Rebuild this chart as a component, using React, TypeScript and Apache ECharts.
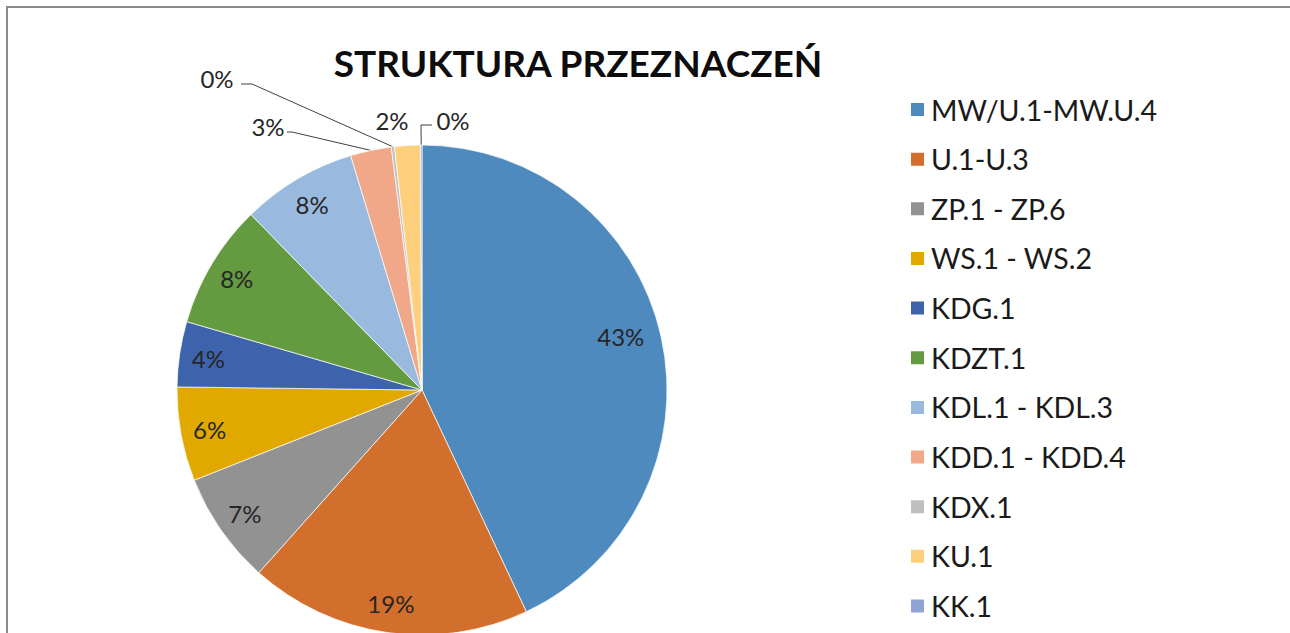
import React, { useEffect, useRef } from "react";
import * as echarts from "echarts";

const categories = [
  "MW/U.1-MW.U.4",
  "U.1-U.3",
  "ZP.1 - ZP.6",
  "WS.1 - WS.2",
  "KDG.1",
  "KDZT.1",
  "KDL.1 - KDL.3",
  "KDD.1 - KDD.4",
  "KDX.1",
  "KU.1",
  "KK.1",
];
const values = [43.0, 18.6, 7.4, 6.2, 4.3, 8.2, 7.6, 2.7, 0.2, 1.7, 0.1];
const colors = [
  "#4E8ABE",
  "#D36F2C",
  "#929292",
  "#E1A900",
  "#3D63AC",
  "#649A40",
  "#99B9DF",
  "#F0A889",
  "#BFBFBF",
  "#FED07E",
  "#8FA4D5",
];
const insideLabel = [true, true, true, true, true, true, true, false, false, false, false];
const titleText = "STRUKTURA PRZEZNACZEŃ";

// layout constants
const CX = 422;
const CY = 390;
const R = 245;
const FONT = "Lato, 'Open Sans', sans-serif";

// outside label placements (label centre + leader line elbow/end)
const outsidePlacement: Record<number, { x: number; y: number; line?: number[][] }> = {
  7: { x: 268, y: 126, line: [[292, 132], [287, 132]] },
  8: { x: 217, y: 78, line: [[252, 84], [241, 84]] },
  9: { x: 392, y: 120 },
  10: { x: 453, y: 120, line: [[421, 125], [432, 125]] },
};

const total = values.reduce((a, b) => a + b, 0);
function midAngle(i: number) {
  let c = 0;
  for (let j = 0; j < i; j++) c += values[j];
  c += values[i] / 2;
  return (c / total) * Math.PI * 2;
}

export default function App() {
  const ref = useRef<HTMLDivElement>(null);
  useEffect(() => {
    if (!ref.current) return;
    const chart = echarts.init(ref.current, null, { renderer: "svg" });
    const pct = (p: any) => `${Math.round(p.percent)}%`;
    const mainData = categories.map((name, i) => ({
      name,
      value: values[i],
      itemStyle: { color: colors[i] },
      label: { show: !insideLabel[i] },
      labelLine: { show: !insideLabel[i] && !!outsidePlacement[i]?.line },
    }));
    const overlayData = categories.map((name, i) => ({
      name,
      value: values[i],
      label: { show: insideLabel[i] },
    }));
    chart.setOption({
      animation: false,
      backgroundColor: "#ffffff",
      graphic: [
        {
          type: "rect",
          silent: true,
          shape: { x: 7, y: 7, width: 1400, height: 800 },
          style: { fill: "none", stroke: "#8c8c8c", lineWidth: 2 },
          z: -10,
        },
        {
          type: "text",
          x: 578,
          y: 62,
          style: {
            text: titleText,
            font: `bold 37px ${FONT}`,
            fill: "#0d0d0d",
            textAlign: "center",
            textVerticalAlign: "middle",
          },
        },
      ],
      legend: {
        orient: "vertical",
        left: 909,
        top: 94.5,
        padding: 0,
        itemWidth: 15,
        itemHeight: 15,
        itemGap: 19.65,
        icon: "rect",
        data: categories,
        selectedMode: false,
        textStyle: {
          fontFamily: FONT,
          fontSize: 28.5,
          color: "#1a1a1a",
          lineHeight: 30,
          padding: [0, 0, 0, 1],
        },
      },
      series: [
        {
          type: "pie",
          center: [CX, CY],
          radius: [0, R],
          startAngle: 90,
          clockwise: true,
          avoidLabelOverlap: false,
          itemStyle: { borderColor: "#ffffff", borderWidth: 0.7 },
          label: {
            position: "outside",
            formatter: pct,
            fontFamily: FONT,
            fontSize: 24,
            color: "#262626",
          },
          labelLine: {
            lineStyle: { color: "#404040", width: 1 },
          },
          labelLayout: (p: any) => {
            const pl = outsidePlacement[p.dataIndex];
            if (!pl) return {};
            const a = midAngle(p.dataIndex);
            const ex = CX + R * Math.sin(a);
            const ey = CY - R * Math.cos(a);
            const res: any = { x: pl.x, y: pl.y, align: "center", verticalAlign: "middle" };
            if (pl.line) res.labelLinePoints = [[ex, ey], ...pl.line];
            return res;
          },
          data: mainData,
        },
        {
          type: "pie",
          silent: true,
          center: [CX, CY],
          radius: [Math.round(R * 0.74), R],
          startAngle: 90,
          clockwise: true,
          avoidLabelOverlap: false,
          itemStyle: { color: "rgba(0,0,0,0)" },
          label: {
            position: "inside",
            formatter: pct,
            fontFamily: FONT,
            fontSize: 24,
            color: "#262626",
          },
          labelLine: { show: false },
          labelLayout: (p: any) => (p.dataIndex === 0 ? { dx: -12, dy: -6 } : {}),
          data: overlayData,
        },
      ],
    });
    return () => chart.dispose();
  }, []);
  return (
    <div
      ref={ref}
      style={{ position: "fixed", left: 0, top: 0, width: 1290, height: 633 }}
    />
  );
}
